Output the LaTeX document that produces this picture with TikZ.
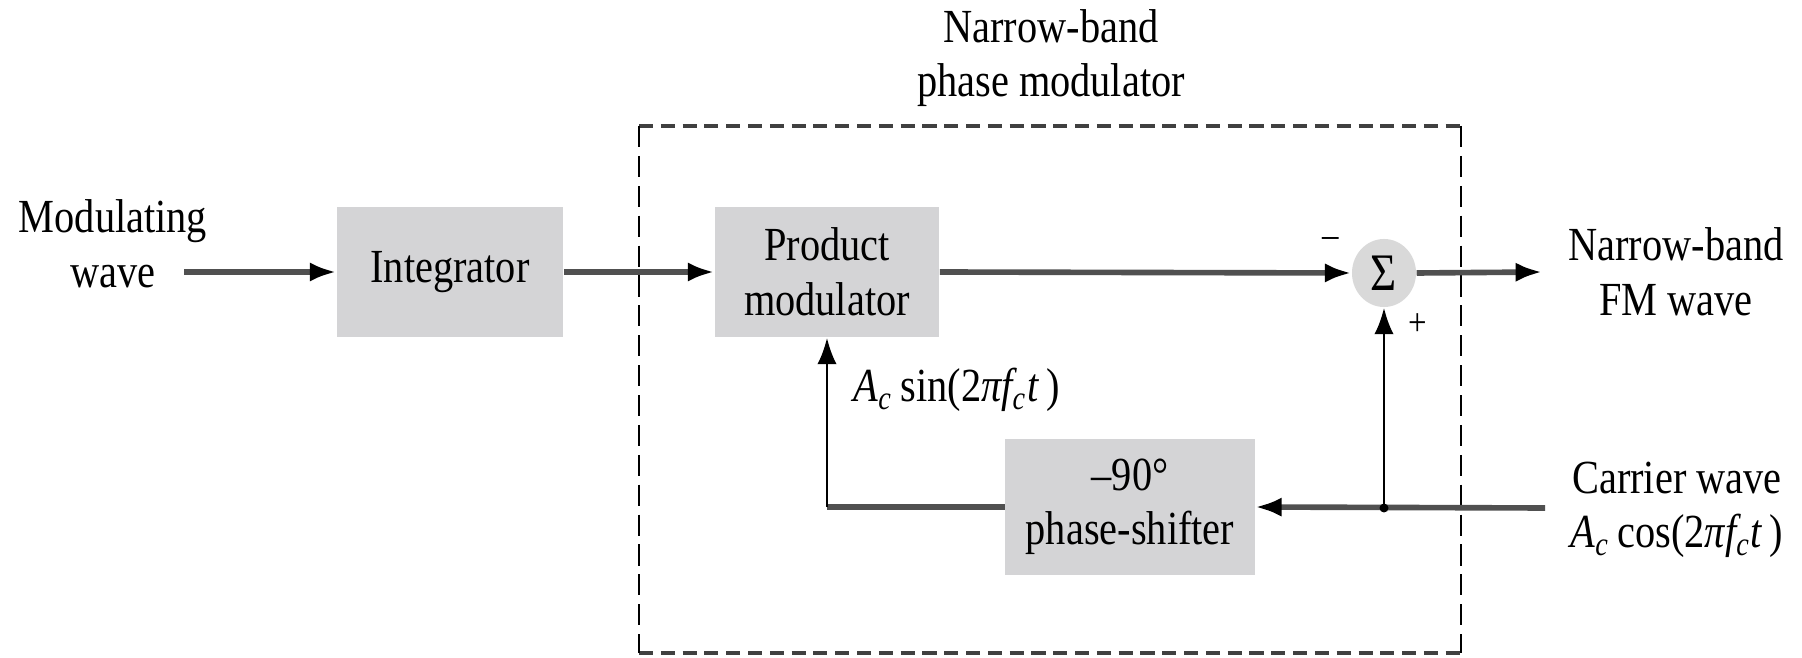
\documentclass[tikz,border=0pt]{standalone}
\usepackage{fontspec}
\setmainfont{Liberation Serif}[FakeStretch=0.85]
\usetikzlibrary{arrows.meta,shapes.geometric}
\definecolor{boxgray}{HTML}{D4D4D6}
\definecolor{sumgray}{HTML}{D9D9D9}
\definecolor{linegray}{HTML}{505050}
\definecolor{dashgray}{HTML}{404040}
\begin{document}
\begin{tikzpicture}[x=0.01cm,y=-0.01cm,
  every node/.style={font=\fontsize{13.5}{15.5}\selectfont, inner sep=0pt},
  block/.style={fill=boxgray, align=center},
  lbl/.style={align=center},
  tip/.style={-{Latex[length=7.5pt,width=5.5pt,color=black]}},
  sig/.style={draw=linegray, line width=1.6pt, tip},
  thickline/.style={draw=linegray, line width=1.6pt},
  thinsig/.style={draw=black, line width=0.8pt, -{Latex[length=7.5pt,width=5.5pt]}},
  hdash/.style={draw=dashgray, line width=1.3pt, dash pattern=on 4pt off 2.2pt},
  vdash/.style={draw=black, line width=0.7pt, dash pattern=on 6pt off 2.5pt},
  sgn/.style={font=\fontsize{11}{12}\selectfont}
]
\useasboundingbox (0,0) rectangle (1802,658);

% enclosing dashed box
\coordinate (bTL) at (639,126);
\coordinate (bTR) at (1461,126);
\coordinate (bBL) at (639,653);
\coordinate (bBR) at (1461,653);
\draw[hdash] (bTL) -- (bTR);
\draw[hdash] (bBL) -- (bBR);
\draw[vdash] (bTL) -- (bBL);
\draw[vdash] (bTR) -- (bBR);

\node[lbl] (title) at (1051,58) {Narrow-band\\phase modulator};

\node[lbl] (mod) at (113,244) {Modulating\\wave};
\node[block, minimum width=2.26cm, minimum height=1.30cm] (int) at (450,272) {Integrator};
\node[block, minimum width=2.24cm, minimum height=1.30cm] (pm) at (827,272) {Product\\modulator};
\node[ellipse, fill=sumgray, minimum width=0.64cm, minimum height=0.68cm, font=\fontsize{15}{16}\selectfont] (sum) at (1384,273) {Σ};
\node[block, minimum width=2.49cm, minimum height=1.35cm] (ps) at (1130,507) {\textendash90°\\phase-shifter};
\node[lbl] (out) at (1676,272) {Narrow-band\\FM wave};
\node[lbl] (car) at (1677,510) {Carrier wave\\{\itshape A}\textsubscript{\itshape c}\,cos(2{\itshape πf}\textsubscript{\itshape c}{\itshape t\,})};
\node[anchor=west] (sinlbl) at (853,390) {{\itshape A}\textsubscript{\itshape c}\,sin(2{\itshape πf}\textsubscript{\itshape c}{\itshape t\,})};
\node[sgn] (minus) at (1331,243) {\textendash};
\node[sgn] (plus) at (1418,325) {+};

\coordinate (modin) at (184,272);
\coordinate (outend) at (1542,272);
\coordinate (carin) at (1545,508);
\coordinate (j) at (1384,508);
\coordinate (corner) at (pm.south |- ps.west);

\draw[sig] (modin) -- (int.west);
\draw[sig] (int.east) -- (pm.west);
\draw[sig] (pm.east) -- (sum.west);
\draw[sig] (sum.east) -- (outend);
\draw[sig] (carin) -- (ps.east);
\draw[thickline] (ps.west) -- (corner);
\draw[thinsig] (corner) -- (pm.south);
\draw[thinsig] (j) -- (sum.south);
\fill (j) circle[radius=4.5];
\end{tikzpicture}
\end{document}
